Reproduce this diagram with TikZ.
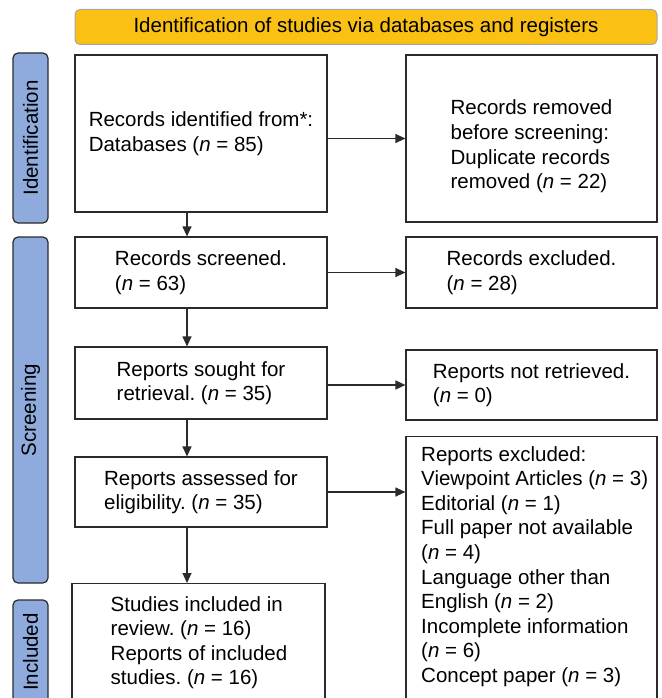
\documentclass[tikz,border=0pt]{standalone}
\usepackage{fontspec}
\setmainfont{Liberation Sans}
\usetikzlibrary{arrows.meta}
\frenchspacing
\definecolor{bannerfill}{HTML}{FBC014}
\definecolor{bannerline}{HTML}{A6A6A6}
\definecolor{stagefill}{HTML}{8FAADC}
\definecolor{boxline}{HTML}{2B2B2B}
\newcommand{\nval}[1]{(\textit{n} = #1)}
\tikzset{
	box/.style={draw=boxline,line width=1.2pt,align=left,minimum width=252pt},
	stage/.style={draw=boxline,fill=stagefill,rounded corners=5pt,line width=1.2pt,minimum height=35pt,rotate=90},
	flow/.style={draw=boxline,line width=1.2pt,-{Triangle[length=10pt,width=9pt]}}
}

\begin{document}
\begin{tikzpicture}[x=1pt,y=-1pt,font=\fontsize{20.5}{24.6}\selectfont]
	\useasboundingbox (0,0) rectangle (661,698);
	\clip (0,0) rectangle (661,698);
	\node[draw=bannerline,fill=bannerfill,rounded corners=5pt,line width=1pt,minimum width=582pt,minimum height=35pt] (head) at (366,27) {Identification of studies via databases and registers};
	\node[stage,minimum width=170pt] (ident) at (30.5,138) {Identification};
	\node[stage,minimum width=346pt] (screen) at (30.5,410) {Screening};
	\node[stage,minimum width=104pt] (incl) at (30.5,652) {Included};
	\node[box,minimum height=157pt] (found) at (201,133.5) {Records identified from*:\\Databases \nval{85}};
	\node[box,minimum width=251pt,minimum height=167pt] (dupl) at (531.5,138.5) {};
	\node[align=left] (dupltext) at ([yshift=-8pt]dupl.center) {Records removed\\before screening:\\Duplicate records\\removed \nval{22}};
	\node[box,minimum height=71pt] (scrn) at (201,272.5) {Records screened.\\\nval{63}};
	\node[box,minimum width=251pt,minimum height=71pt] (excl) at (531.5,272.5) {Records excluded.\\\nval{28}};
	\node[box,minimum height=72pt] (sought) at (201,383) {Reports sought for\\retrieval. \nval{35}};
	\node[box,minimum width=251pt,minimum height=70pt] (notret) at (531.5,385) {Reports not retrieved.\\\nval{0}};
	\node[box,minimum height=70pt] (assess) at (201,492) {Reports assessed for\\eligibility. \nval{35}};
	\node[box,minimum width=251pt,minimum height=300pt,anchor=north] (rexcl) at (531.5,436) {};
	\node[align=left,anchor=north west,inner sep=0pt] (rexcltext) at (421,446) {Reports excluded:\\Viewpoint Articles \nval{3}\\Editorial \nval{1}\\Full paper not available\\\nval{4}\\Language other than\\English \nval{2}\\Incomplete information\\\nval{6}\\Concept paper \nval{3}};
	\node[box,minimum width=253pt,minimum height=150pt,anchor=north] (incd) at (198.5,583) {};
	\node[align=left,anchor=north west,inner sep=0pt] (incdtext) at (110.5,596) {Studies included in\\review. \nval{16}\\Reports of included\\studies. \nval{16}};
	\draw[flow] (found.east |- dupl.west) -- (dupl.west);
	\draw[flow] (scrn) -- (excl);
	\draw[flow] (sought.east |- notret.west) -- (notret.west);
	\draw[flow] (assess.east) -- (assess.east -| rexcl.west);
	\draw[flow] ([xshift=-14pt]found.south) -- ([xshift=-14pt]found.south |- scrn.north);
	\draw[flow] ([xshift=-14pt]scrn.south) -- ([xshift=-14pt]scrn.south |- sought.north);
	\draw[flow] ([xshift=-14pt]sought.south) -- ([xshift=-14pt]sought.south |- assess.north);
	\draw[flow] ([xshift=-14pt]assess.south) -- ([xshift=-14pt]assess.south |- incd.north);
\end{tikzpicture}
\end{document}
